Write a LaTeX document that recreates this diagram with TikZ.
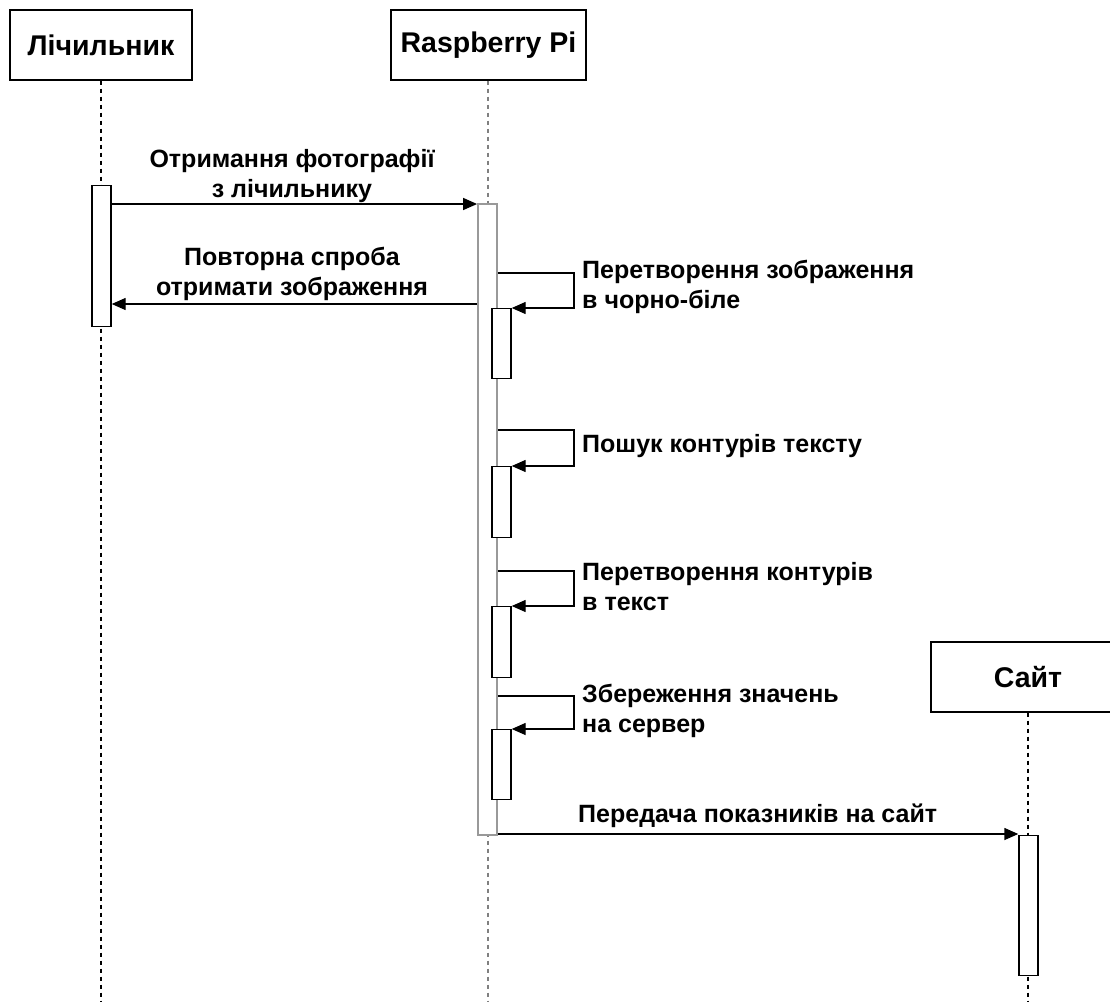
\documentclass[tikz,border=0pt]{standalone}
\usepackage{fontspec}
\setmainfont{Liberation Sans}
\usetikzlibrary{arrows.meta}
\begin{document}
\begin{tikzpicture}[x=1pt,y=-1pt,
  actor/.style={draw, line width=1.4pt, fill=white, minimum height=70pt, inner sep=0pt, font=\fontsize{28.5}{32}\selectfont\bfseries},
  act/.style={draw, fill=white, line width=1.4pt, minimum width=19pt, inner sep=0pt, anchor=north},
  life/.style={dash pattern=on 4pt off 4pt, line width=1.1pt},
  msg/.style={line width=1.4pt, -{Triangle[length=14pt,width=12pt]}},
  lbl/.style={font=\fontsize{25}{30}\selectfont\bfseries, align=center, inner sep=0pt},
  lbll/.style={lbl, align=left, anchor=west}]
\clip (0,0) rectangle (1110,1002);
\useasboundingbox (0,0) rectangle (1110,1002);
% actors
\node[actor, minimum width=182pt] (L) at (101,45) {Лічильник};
\node[actor, minimum width=195pt] (R) at (488.5,45) {Raspberry Pi};
\node[actor, minimum width=194pt] (S) at (1028,677) {Сайт};
% lifelines
\coordinate (Lend) at (101,1002);
\coordinate (Rend) at (488,1002);
\coordinate (Send) at (1028,1002);
\draw[life] (L.south) -- (Lend);
\draw[life, gray] (R.south -| Rend) -- (Rend);
\draw[life] (S.south -| Send) -- (Send);
% activations
\node[act, minimum height=141pt] (aL) at (101.5,185) {};
\node[act, minimum height=631pt, draw=gray!80, line width=1.8pt] (aR) at (487.5,203) {};
\node[act, minimum height=70pt] (a1) at (501.5,308) {};
\node[act, minimum height=71pt] (a2) at (501.5,466) {};
\node[act, minimum height=71pt] (a3) at (501.5,606) {};
\node[act, minimum height=70pt] (a4) at (501.5,729) {};
\node[act, minimum height=140pt] (aS) at (1028.5,835) {};
% message levels
\coordinate (y1) at (0,204);
\coordinate (y2) at (0,304);
\coordinate (y5) at (0,834);
\coordinate (k1) at (574,273);
\coordinate (k2) at (574,430);
\coordinate (k3) at (574,571);
\coordinate (k4) at (574,696);
% messages
\draw[msg] (aL.east |- y1) -- (aR.west |- y1);
\draw[msg] (aR.west |- y2) -- (aL.east |- y2);
\draw[msg] (aR.east |- k1) -- (k1) |- (a1.north east);
\draw[msg] (aR.east |- k2) -- (k2) |- (a2.north east);
\draw[msg] (aR.east |- k3) -- (k3) |- (a3.north east);
\draw[msg] (aR.east |- k4) -- (k4) |- (a4.north east);
\draw[msg] (aR.east |- y5) -- (aS.west |- y5);
% labels
\node[lbl] (t1) at (292,176) {Отримання фотографії\\з лічильнику};
\node[lbl] (t2) at (292,274) {Повторна спроба\\отримати зображення};
\node[lbll] (t3) at (582,287) {Перетворення зображення\\в чорно-біле};
\node[lbll] (t4) at (582,446) {Пошук контурів тексту};
\node[lbll] (t5) at (582,587) {Перетворення контурів\\в текст};
\node[lbll] (t6) at (582,711) {Збереження значень\\на сервер};
\node[lbll] (t7) at (578,816) {Передача показників на сайт};
\end{tikzpicture}
\end{document}
